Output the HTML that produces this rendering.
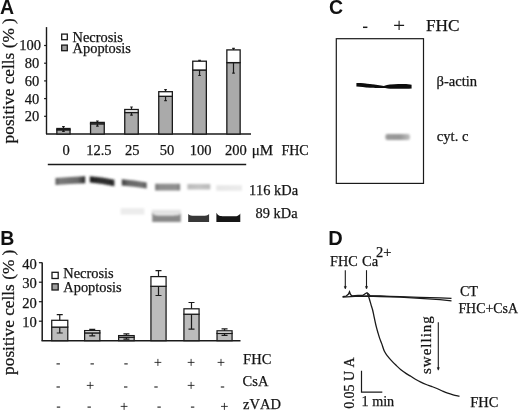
<!DOCTYPE html><html><head><meta charset="utf-8"><style>html,body{margin:0;padding:0;background:#fff;overflow:hidden;width:520px;height:411px}svg{display:block;filter:blur(0.3px)}text{font-family:"Liberation Serif",serif;fill:#151515;stroke:#151515;stroke-width:0.25px;font-kerning:none}.p{font-family:"Liberation Sans",sans-serif;font-weight:bold;fill:#111;stroke:none}</style></head><body>
<svg width="520" height="411" viewBox="0 0 520 411">
<defs><filter id="b1" x="-20%" y="-50%" width="140%" height="200%"><feGaussianBlur stdDeviation="1.1"/></filter><filter id="b2" x="-20%" y="-50%" width="140%" height="200%"><feGaussianBlur stdDeviation="0.7"/></filter></defs>
<text class="p" x="-0.1" y="13.6" font-size="19.5">A</text>
<text class="p" x="0.15" y="244.8" font-size="19.5">B</text>
<text class="p" x="329.1" y="13.7" font-size="19.5">C</text>
<text class="p" x="328.3" y="245" font-size="20">D</text>
<text transform="translate(13.9,143.4) rotate(-90)" font-size="17.3">positive cells (% )</text>
<text transform="translate(13.6,374.9) rotate(-90)" font-size="17.3">positive cells (% )</text>
<line x1="46.5" y1="27.1" x2="46.5" y2="134.0" stroke="#1a1a1a" stroke-width="1.4"/>
<line x1="46" y1="134.0" x2="251" y2="134.0" stroke="#1a1a1a" stroke-width="1.6"/>
<line x1="44.1" y1="116.3" x2="46.5" y2="116.3" stroke="#1a1a1a" stroke-width="1.2"/>
<text x="39.2" y="121.2" font-size="14.5" text-anchor="end">20</text>
<line x1="44.1" y1="98.6" x2="46.5" y2="98.6" stroke="#1a1a1a" stroke-width="1.2"/>
<text x="39.2" y="103.5" font-size="14.5" text-anchor="end">40</text>
<line x1="44.1" y1="80.9" x2="46.5" y2="80.9" stroke="#1a1a1a" stroke-width="1.2"/>
<text x="39.2" y="85.8" font-size="14.5" text-anchor="end">60</text>
<line x1="44.1" y1="63.2" x2="46.5" y2="63.2" stroke="#1a1a1a" stroke-width="1.2"/>
<text x="39.2" y="68.1" font-size="14.5" text-anchor="end">80</text>
<line x1="44.1" y1="45.5" x2="46.5" y2="45.5" stroke="#1a1a1a" stroke-width="1.2"/>
<text x="40.9" y="50.4" font-size="14.5" text-anchor="end">100</text>
<rect x="56.85" y="129.80" width="13.20" height="4.20" fill="#aaa" stroke="#1a1a1a" stroke-width="1.3"/>
<rect x="56.85" y="128.50" width="13.20" height="1.30" fill="#fff" stroke="#1a1a1a" stroke-width="1.3"/>
<path d="M63.45 128.50V126.60M62.15 126.60H64.75" stroke="#1a1a1a" stroke-width="1.2" fill="none"/>
<path d="M63.45 129.80V131.40M62.15 131.40H64.75" stroke="#1a1a1a" stroke-width="1.2" fill="none"/>
<rect x="90.55" y="123.80" width="13.70" height="10.20" fill="#aaa" stroke="#1a1a1a" stroke-width="1.3"/>
<rect x="90.55" y="122.40" width="13.70" height="1.40" fill="#fff" stroke="#1a1a1a" stroke-width="1.3"/>
<path d="M97.40 122.40V121.00M96.10 121.00H98.70" stroke="#1a1a1a" stroke-width="1.2" fill="none"/>
<path d="M97.40 123.80V126.20M96.10 126.20H98.70" stroke="#1a1a1a" stroke-width="1.2" fill="none"/>
<rect x="124.75" y="112.50" width="13.50" height="21.50" fill="#aaa" stroke="#1a1a1a" stroke-width="1.3"/>
<rect x="124.75" y="109.50" width="13.50" height="3.00" fill="#fff" stroke="#1a1a1a" stroke-width="1.3"/>
<path d="M131.50 109.50V107.00M130.20 107.00H132.80" stroke="#1a1a1a" stroke-width="1.2" fill="none"/>
<path d="M131.50 112.50V115.20M130.20 115.20H132.80" stroke="#1a1a1a" stroke-width="1.2" fill="none"/>
<rect x="158.75" y="96.30" width="13.60" height="37.70" fill="#aaa" stroke="#1a1a1a" stroke-width="1.3"/>
<rect x="158.75" y="91.70" width="13.60" height="4.60" fill="#fff" stroke="#1a1a1a" stroke-width="1.3"/>
<path d="M165.55 91.70V89.60M164.25 89.60H166.85" stroke="#1a1a1a" stroke-width="1.2" fill="none"/>
<path d="M165.55 96.30V100.60M164.25 100.60H166.85" stroke="#1a1a1a" stroke-width="1.2" fill="none"/>
<rect x="192.75" y="70.00" width="13.60" height="64.00" fill="#aaa" stroke="#1a1a1a" stroke-width="1.3"/>
<rect x="192.75" y="61.20" width="13.60" height="8.80" fill="#fff" stroke="#1a1a1a" stroke-width="1.3"/>
<path d="M199.55 61.20V60.30M198.25 60.30H200.85" stroke="#1a1a1a" stroke-width="1.2" fill="none"/>
<path d="M199.55 70.00V75.50M198.25 75.50H200.85" stroke="#1a1a1a" stroke-width="1.2" fill="none"/>
<rect x="226.85" y="62.60" width="13.30" height="71.40" fill="#aaa" stroke="#1a1a1a" stroke-width="1.3"/>
<rect x="226.85" y="49.90" width="13.30" height="12.70" fill="#fff" stroke="#1a1a1a" stroke-width="1.3"/>
<path d="M233.50 49.90V48.30M232.20 48.30H234.80" stroke="#1a1a1a" stroke-width="1.2" fill="none"/>
<path d="M233.50 62.60V73.10M232.20 73.10H234.80" stroke="#1a1a1a" stroke-width="1.2" fill="none"/>
<rect x="61.7" y="34.1" width="5.6" height="5.6" fill="#fff" stroke="#1a1a1a" stroke-width="1.3"/>
<rect x="61.7" y="45.1" width="5.6" height="5.6" fill="#a0a0a0" stroke="#1a1a1a" stroke-width="1.3"/>
<text x="72.6" y="42.4" font-size="14.4">Necrosis</text>
<text x="72.6" y="53.4" font-size="14.4">Apoptosis</text>
<rect x="52" y="272.3" width="6.2" height="6.2" fill="#fff" stroke="#1a1a1a" stroke-width="1.3"/>
<rect x="52" y="283.8" width="6.2" height="6.2" fill="#a0a0a0" stroke="#1a1a1a" stroke-width="1.3"/>
<text x="63.3" y="278.2" font-size="14.4">Necrosis</text>
<text x="63.3" y="292" font-size="14.4">Apoptosis</text>
<text x="66.2" y="155.0" font-size="14.5" text-anchor="middle">0</text>
<text x="98.9" y="155.0" font-size="14.5" text-anchor="middle">12.5</text>
<text x="132.3" y="155.0" font-size="14.5" text-anchor="middle">25</text>
<text x="167" y="155.0" font-size="14.5" text-anchor="middle">50</text>
<text x="200.5" y="155.0" font-size="14.5" text-anchor="middle">100</text>
<text x="235.9" y="155.0" font-size="14.5" text-anchor="middle">200</text>
<text x="251.8" y="154.8" font-size="15">μM</text>
<text x="281.4" y="154.8" font-size="14">FHC</text>
<line x1="47.8" y1="164.4" x2="246.2" y2="164.4" stroke="#1a1a1a" stroke-width="1.5"/>
<linearGradient id="g62" x1="0" x2="1" y1="0" y2="0"><stop offset="0" stop-color="#5a5a5a"/><stop offset="0.15" stop-color="#7a7a7a"/><stop offset="0.75" stop-color="#6a6a6a"/><stop offset="1" stop-color="#262626"/></linearGradient>
<filter id="f63" x="-30%" y="-100%" width="160%" height="300%"><feGaussianBlur stdDeviation="0.85"/></filter>
<path d="M55.5 178.0Q70.3 176.8 85.2 176.2L85.2 183.3Q70.3 183.8 55.5 184.9Z" fill="url(#g62)" filter="url(#f63)"/>
<linearGradient id="g65" x1="0" x2="1" y1="0" y2="0"><stop offset="0" stop-color="#1e1e1e"/><stop offset="0.5" stop-color="#303030"/><stop offset="1" stop-color="#2a2a2a"/></linearGradient>
<filter id="f66" x="-30%" y="-100%" width="160%" height="300%"><feGaussianBlur stdDeviation="0.85"/></filter>
<path d="M89.8 176.2Q102.1 177.1 114.4 179.7L114.4 186.3Q102.1 183.6 89.8 182.5Z" fill="url(#g65)" filter="url(#f66)"/>
<linearGradient id="g68" x1="0" x2="1" y1="0" y2="0"><stop offset="0" stop-color="#3e3e3e"/><stop offset="0.25" stop-color="#666"/><stop offset="0.8" stop-color="#707070"/><stop offset="1" stop-color="#5a5a5a"/></linearGradient>
<filter id="f69" x="-30%" y="-100%" width="160%" height="300%"><feGaussianBlur stdDeviation="0.85"/></filter>
<path d="M121.8 179.3Q134.2 180.3 146.7 182.4L146.7 188.6Q134.2 186.5 121.8 185.5Z" fill="url(#g68)" filter="url(#f69)"/>
<linearGradient id="g71" x1="0" x2="1" y1="0" y2="0"><stop offset="0" stop-color="#777"/><stop offset="0.2" stop-color="#8e8e8e"/><stop offset="0.85" stop-color="#909090"/><stop offset="1" stop-color="#777"/></linearGradient>
<filter id="f72" x="-30%" y="-100%" width="160%" height="300%"><feGaussianBlur stdDeviation="0.85"/></filter>
<path d="M155.2 183.8Q167.6 183.8 180.1 183.8L180.1 190.4Q167.6 190.4 155.2 190.4Z" fill="url(#g71)" filter="url(#f72)"/>
<linearGradient id="g74" x1="0" x2="1" y1="0" y2="0"><stop offset="0" stop-color="#bbb"/><stop offset="0.5" stop-color="#c4c4c4"/><stop offset="1" stop-color="#bbb"/></linearGradient>
<filter id="f75" x="-30%" y="-100%" width="160%" height="300%"><feGaussianBlur stdDeviation="0.85"/></filter>
<path d="M187.4 184.0Q198.9 184.0 210.3 184.0L210.3 189.6Q198.9 189.6 187.4 189.6Z" fill="url(#g74)" filter="url(#f75)"/>
<linearGradient id="g77" x1="0" x2="1" y1="0" y2="0"><stop offset="0" stop-color="#e6e6e6"/><stop offset="1" stop-color="#ebebeb"/></linearGradient>
<filter id="f78" x="-30%" y="-100%" width="160%" height="300%"><feGaussianBlur stdDeviation="0.85"/></filter>
<path d="M216.3 185.2Q229.2 185.2 242.0 185.2L242.0 190.8Q229.2 190.8 216.3 190.8Z" fill="url(#g77)" filter="url(#f78)"/>
<filter id="f80" x="-30%" y="-100%" width="160%" height="300%"><feGaussianBlur stdDeviation="0.8"/></filter>
<path d="M120.6 208.2L144.4 208.2L144.4 214.6L120.6 214.6Z" fill="#ececec" filter="url(#f80)"/>
<filter id="f82" x="-30%" y="-100%" width="160%" height="300%"><feGaussianBlur stdDeviation="1.2"/></filter>
<path d="M151.7 209.8L180.8 209.8L180.8 214.8L151.7 214.8Z" fill="#e2e2e2" filter="url(#f82)"/>
<filter id="f84" x="-30%" y="-100%" width="160%" height="300%"><feGaussianBlur stdDeviation="0.9"/></filter>
<path d="M152.2 213.0C154.5 215.5 156.5 215.5 160.8 215.5L172.2 215.5C176.5 215.5 178.5 215.5 180.8 213.6L180.8 221.9L152.2 221.9Z" fill="#888888" filter="url(#f84)"/>
<filter id="f86" x="-30%" y="-100%" width="160%" height="300%"><feGaussianBlur stdDeviation="0.75"/></filter>
<path d="M188.2 214.1C189.9 215.8 191.3 215.8 194.5 215.8L202.8 215.8C206.0 215.8 207.4 215.8 209.1 214.1L209.1 222.0L188.2 222.0Z" fill="#383838" filter="url(#f86)"/>
<filter id="f88" x="-30%" y="-100%" width="160%" height="300%"><feGaussianBlur stdDeviation="0.7"/></filter>
<path d="M216.4 212.8C218.3 216.2 220.0 216.2 223.6 216.2L233.1 216.2C236.7 216.2 238.4 216.2 240.3 213.4L240.3 222.1L216.4 222.1Z" fill="#151515" filter="url(#f88)"/>
<text x="248.9" y="194.8" font-size="14.4">116 kDa</text>
<text x="255.6" y="218.2" font-size="14.4">89 kDa</text>
<line x1="42.2" y1="262.4" x2="42.2" y2="340.7" stroke="#1a1a1a" stroke-width="1.5"/>
<line x1="41.5" y1="340.7" x2="240.5" y2="340.7" stroke="#1a1a1a" stroke-width="1.6"/>
<line x1="38.9" y1="321.2" x2="42.2" y2="321.2" stroke="#1a1a1a" stroke-width="1.2"/>
<text x="36.8" y="327.0" font-size="14.6" text-anchor="end">10</text>
<line x1="38.9" y1="301.7" x2="42.2" y2="301.7" stroke="#1a1a1a" stroke-width="1.2"/>
<text x="36.8" y="307.5" font-size="14.6" text-anchor="end">20</text>
<line x1="38.9" y1="282.2" x2="42.2" y2="282.2" stroke="#1a1a1a" stroke-width="1.2"/>
<text x="36.8" y="288.0" font-size="14.6" text-anchor="end">30</text>
<line x1="38.9" y1="262.7" x2="42.2" y2="262.7" stroke="#1a1a1a" stroke-width="1.2"/>
<text x="36.8" y="268.5" font-size="14.6" text-anchor="end">40</text>
<rect x="51.73" y="327.10" width="16.05" height="13.60" fill="#bcbcbc" stroke="#1a1a1a" stroke-width="1.25"/>
<rect x="51.73" y="320.30" width="16.05" height="6.80" fill="#fff" stroke="#1a1a1a" stroke-width="1.25"/>
<path d="M59.75 320.30V314.70M56.75 314.70H62.75" stroke="#1a1a1a" stroke-width="1.2" fill="none"/>
<path d="M59.75 327.10V333.00M56.75 333.00H62.75" stroke="#1a1a1a" stroke-width="1.2" fill="none"/>
<rect x="84.62" y="332.90" width="15.25" height="7.80" fill="#bcbcbc" stroke="#1a1a1a" stroke-width="1.25"/>
<rect x="84.62" y="330.60" width="15.25" height="2.30" fill="#fff" stroke="#1a1a1a" stroke-width="1.25"/>
<path d="M92.25 330.60V329.40M89.25 329.40H95.25" stroke="#1a1a1a" stroke-width="1.2" fill="none"/>
<path d="M92.25 332.90V335.90M89.25 335.90H95.25" stroke="#1a1a1a" stroke-width="1.2" fill="none"/>
<rect x="118.62" y="337.30" width="15.55" height="3.40" fill="#bcbcbc" stroke="#1a1a1a" stroke-width="1.25"/>
<rect x="118.62" y="335.60" width="15.55" height="1.70" fill="#fff" stroke="#1a1a1a" stroke-width="1.25"/>
<path d="M126.40 335.60V333.80M123.40 333.80H129.40" stroke="#1a1a1a" stroke-width="1.2" fill="none"/>
<path d="M126.40 337.30V339.20M123.40 339.20H129.40" stroke="#1a1a1a" stroke-width="1.2" fill="none"/>
<rect x="150.93" y="286.30" width="15.15" height="54.40" fill="#bcbcbc" stroke="#1a1a1a" stroke-width="1.25"/>
<rect x="150.93" y="276.60" width="15.15" height="9.70" fill="#fff" stroke="#1a1a1a" stroke-width="1.25"/>
<path d="M158.50 276.60V270.60M155.50 270.60H161.50" stroke="#1a1a1a" stroke-width="1.2" fill="none"/>
<path d="M158.50 286.30V295.50M155.50 295.50H161.50" stroke="#1a1a1a" stroke-width="1.2" fill="none"/>
<rect x="183.93" y="314.20" width="15.15" height="26.50" fill="#bcbcbc" stroke="#1a1a1a" stroke-width="1.25"/>
<rect x="183.93" y="308.80" width="15.15" height="5.40" fill="#fff" stroke="#1a1a1a" stroke-width="1.25"/>
<path d="M191.50 308.80V302.50M188.50 302.50H194.50" stroke="#1a1a1a" stroke-width="1.2" fill="none"/>
<path d="M191.50 314.20V329.10M188.50 329.10H194.50" stroke="#1a1a1a" stroke-width="1.2" fill="none"/>
<rect x="217.03" y="333.40" width="15.05" height="7.30" fill="#bcbcbc" stroke="#1a1a1a" stroke-width="1.25"/>
<rect x="217.03" y="330.80" width="15.05" height="2.60" fill="#fff" stroke="#1a1a1a" stroke-width="1.25"/>
<path d="M224.55 330.80V328.80M221.55 328.80H227.55" stroke="#1a1a1a" stroke-width="1.2" fill="none"/>
<path d="M224.55 333.40V335.30M221.55 335.30H227.55" stroke="#1a1a1a" stroke-width="1.2" fill="none"/>
<line x1="56.5" y1="363.9" x2="59.9" y2="363.9" stroke="#1a1a1a" stroke-width="1.1"/>
<line x1="90.5" y1="363.9" x2="93.9" y2="363.9" stroke="#1a1a1a" stroke-width="1.1"/>
<line x1="124.3" y1="363.9" x2="127.7" y2="363.9" stroke="#1a1a1a" stroke-width="1.1"/>
<path d="M154.5 362.4H161.3M157.9 358.9V365.9" stroke="#1a1a1a" stroke-width="0.85" fill="none"/>
<path d="M187.7 362.4H194.5M191.1 358.9V365.9" stroke="#1a1a1a" stroke-width="0.85" fill="none"/>
<path d="M217.6 362.4H224.4M221.0 358.9V365.9" stroke="#1a1a1a" stroke-width="0.85" fill="none"/>
<line x1="56.5" y1="387.0" x2="59.9" y2="387.0" stroke="#1a1a1a" stroke-width="1.1"/>
<path d="M86.8 385.4H93.6M90.2 381.9V388.9" stroke="#1a1a1a" stroke-width="0.85" fill="none"/>
<line x1="124.0" y1="387.0" x2="127.4" y2="387.0" stroke="#1a1a1a" stroke-width="1.1"/>
<line x1="154.3" y1="387.0" x2="157.7" y2="387.0" stroke="#1a1a1a" stroke-width="1.1"/>
<path d="M187.7 385.4H194.5M191.1 381.9V388.9" stroke="#1a1a1a" stroke-width="0.85" fill="none"/>
<line x1="220.8" y1="387.0" x2="224.2" y2="387.0" stroke="#1a1a1a" stroke-width="1.1"/>
<line x1="56.8" y1="407.1" x2="60.2" y2="407.1" stroke="#1a1a1a" stroke-width="1.1"/>
<line x1="87.5" y1="407.1" x2="90.9" y2="407.1" stroke="#1a1a1a" stroke-width="1.1"/>
<path d="M120.7 406.4H127.5M124.1 402.9V409.9" stroke="#1a1a1a" stroke-width="0.85" fill="none"/>
<line x1="157.4" y1="407.1" x2="160.8" y2="407.1" stroke="#1a1a1a" stroke-width="1.1"/>
<line x1="190.9" y1="407.1" x2="194.3" y2="407.1" stroke="#1a1a1a" stroke-width="1.1"/>
<path d="M221.0 406.4H227.8M224.4 402.9V409.9" stroke="#1a1a1a" stroke-width="0.85" fill="none"/>
<text x="243.1" y="364.1" font-size="14.5">FHC</text>
<text x="242.6" y="386.4" font-size="14.5">CsA</text>
<text x="243.1" y="408.6" font-size="14.5">zVAD</text>
<line x1="363" y1="27.3" x2="367.4" y2="27.3" stroke="#1a1a1a" stroke-width="1.5"/>
<path d="M394.1 25.4H404.1M399.1 20.8V30" stroke="#1a1a1a" stroke-width="1.1" fill="none"/>
<text x="426" y="31.3" font-size="17.3">FHC</text>
<rect x="336.3" y="38.7" width="87.2" height="144.7" fill="none" stroke="#1a1a1a" stroke-width="1.2"/>
<filter id="fba" x="-10%" y="-100%" width="120%" height="300%"><feGaussianBlur stdDeviation="0.6"/></filter>
<path d="M356.4 83.0 C361 82.9 366 83.5 370 84.1 C376 84.9 380 85.4 383.8 86.0 C386 85.2 388 84.7 390 84.5 C396 84.2 401 84.1 404 84.1 C407 84.2 409.5 84.4 411.6 84.8 L411.6 88.4 C408 88.7 406 88.8 404 88.8 C399 88.9 394 88.9 390 88.7 C387 88.5 385.5 88.2 383.8 88.0 C380 88.2 376 88.0 370 87.8 C365 87.4 360 86.9 356.4 86.6 Z" fill="#0c0c0c" filter="url(#fba)"/>
<linearGradient id="gcy" x1="0" x2="1"><stop offset="0" stop-color="#9a9a9a"/><stop offset="0.6" stop-color="#979797"/><stop offset="1" stop-color="#c0c0c0"/></linearGradient>
<filter id="fcy" x="-30%" y="-100%" width="160%" height="300%"><feGaussianBlur stdDeviation="1.1"/></filter>
<rect x="385.4" y="134.1" width="24.6" height="5.9" rx="2" fill="url(#gcy)" filter="url(#fcy)"/>
<text x="436.5" y="86" font-size="14.6">β-actin</text>
<text x="436.8" y="140.8" font-size="14.6">cyt. c</text>
<text x="330.1" y="265.8" font-size="14.2">FHC</text>
<text x="362.1" y="265.9" font-size="14.5">Ca</text>
<text x="376" y="256.7" font-size="14.5">2+</text>
<path d="M345.3 270.2V288" stroke="#1a1a1a" stroke-width="1.1" fill="none"/>
<path d="M344.3 286.4L345.3 289L346.3 286.4Z" fill="#1a1a1a" stroke="#1a1a1a" stroke-width="0.6"/>
<path d="M366.5 270.2V288" stroke="#1a1a1a" stroke-width="1.1" fill="none"/>
<path d="M365.5 286.4L366.5 289L367.5 286.4Z" fill="#1a1a1a" stroke="#1a1a1a" stroke-width="0.6"/>
<path d="M342.6 296.7 L346 296.2 L348.5 294 L349.5 291.8 L350.5 294.5 L352 295.8 L358 295.5 L363 295.3 L365.5 293.5 L367 292.8 L368.5 294 L370 295.6 L380 296 L390 296.3 L400 296.7 L420 297.3 L440 297.9 L451.5 298.3" stroke="#1a1a1a" stroke-width="1.3" fill="none"/>
<path d="M342.6 297.2 L355 296.4 L367 296 L380 296.5 L400 297.2 L420 298.3 L440 299.6 L451.5 300.8" stroke="#1a1a1a" stroke-width="1.3" fill="none"/>
<path d="M367.60 293.80 C367.88 294.62 368.73 296.90 369.30 298.70 C369.87 300.50 370.47 302.80 371.00 304.60 C371.53 306.40 372.05 307.80 372.50 309.50 C372.95 311.20 373.30 312.95 373.70 314.80 C374.10 316.65 374.48 318.67 374.90 320.60 C375.32 322.53 375.72 324.47 376.20 326.40 C376.68 328.33 377.23 330.25 377.80 332.20 C378.37 334.15 378.93 336.15 379.60 338.10 C380.27 340.05 381.00 341.70 381.80 343.90 C382.60 346.10 383.40 349.22 384.40 351.30 C385.40 353.38 386.58 354.80 387.80 356.40 C389.02 358.00 390.32 359.42 391.70 360.90 C393.08 362.38 394.57 363.83 396.10 365.30 C397.63 366.77 399.20 368.32 400.90 369.70 C402.60 371.08 404.65 372.50 406.30 373.60 C407.95 374.70 409.28 375.37 410.80 376.30 C412.32 377.23 413.73 378.23 415.40 379.20 C417.07 380.17 419.00 381.22 420.80 382.10 C422.60 382.98 424.42 383.78 426.20 384.50 C427.98 385.22 429.72 385.73 431.50 386.40 C433.28 387.07 435.10 387.73 436.90 388.50 C438.70 389.27 440.50 390.22 442.30 391.00 C444.10 391.78 445.90 392.57 447.70 393.20 C449.50 393.83 451.22 394.32 453.10 394.80 C454.98 395.28 458.02 395.88 459.00 396.10" stroke="#1a1a1a" stroke-width="1.3" fill="none" stroke-linecap="round"/>
<text x="459.9" y="295.9" font-size="14.1">CT</text>
<text x="458.4" y="312.9" font-size="13.9">FHC+CsA</text>
<text transform="translate(431.3,374.0) rotate(-90)" font-size="15" textLength="57.8" lengthAdjust="spacing">swelling</text>
<path d="M438.3 322.2V369.2" stroke="#1a1a1a" stroke-width="1.1" fill="none"/>
<path d="M437.3 367.59999999999997L438.3 370.2L439.3 367.59999999999997Z" fill="#1a1a1a" stroke="#1a1a1a" stroke-width="0.6"/>
<path d="M361.5 370.8V392.2H382.3" stroke="#1a1a1a" stroke-width="1.2" fill="none"/>
<text transform="translate(354.0,408.8) rotate(-90)" font-size="14" textLength="51.5" lengthAdjust="spacing">0.05 U A</text>
<text x="361.5" y="406.4" font-size="14.2">1 min</text>
<text x="470.2" y="407.2" font-size="14.45">FHC</text>
</svg></body></html>
